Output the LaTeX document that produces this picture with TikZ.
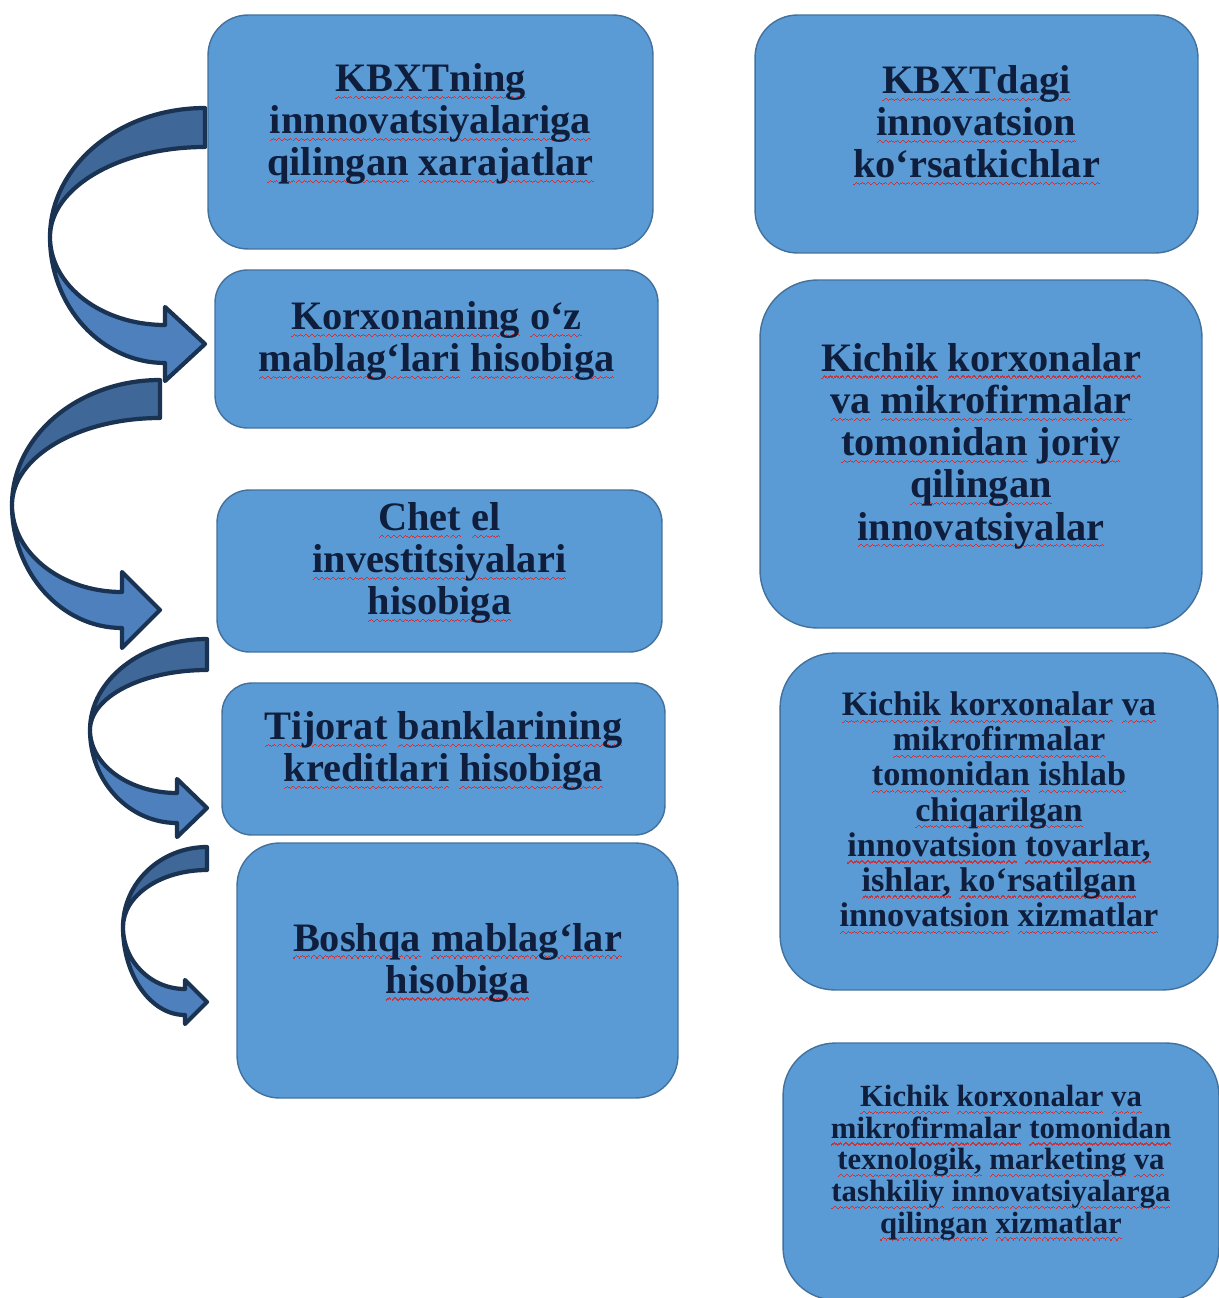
\documentclass[tikz,border=0pt]{standalone}
\usepackage{fontspec}
\setmainfont{Liberation Serif}
\usetikzlibrary{calc}
\definecolor{BoxFill}{HTML}{5B9BD5}
\definecolor{BoxEdge}{HTML}{41719C}
\definecolor{ArrDark}{HTML}{3F6798}
\definecolor{ArrLight}{HTML}{4D80BD}
\definecolor{ArrLine}{HTML}{1A3352}
\definecolor{TxtNavy}{HTML}{0F1E3C}
\definecolor{WaveRed}{HTML}{C8343C}

% red wavy underline under every word
\newsavebox\wavebox
\newcommand\redwave[1]{\sbox\wavebox{#1}\leavevmode\rlap{\hbox to\wd\wavebox{\color{WaveRed}%
  \xleaders\hbox{\rule[-4.2pt]{0.8pt}{0.7pt}\rule[-3.6pt]{0.8pt}{0.7pt}\rule[-3pt]{0.8pt}{0.7pt}\rule[-3.6pt]{0.8pt}{0.7pt}}\hfil}}\usebox\wavebox}
\makeatletter
\newcommand\wavy[1]{\wavy@split#1 \@nil}
\def\wavy@split#1 #2\@nil{\redwave{#1}\ifx\relax#2\relax\expandafter\@gobble\else\expandafter\@firstofone\fi{\ \wavy@split#2\@nil}}
\makeatother

% tail x, tail top, tail bottom, left x, left y, head x, shaft mid, head half, shaft half
\newcommand\bentarrow[9]{%
  \draw[ribback] (#1,#2) .. controls ({#1-0.552*(#1-#4)},#2) and (#4,{#5-0.552*(#5-#2)}) .. (#4,#5)
    .. controls (#4,{#5-0.552*(#5-#3)}) and ({#1-0.552*(#1-#4)},#3) .. (#1,#3) -- cycle;
  \draw[ribfront] (#4,#5) .. controls (#4,{#5+0.552*(#7+#9-#5)}) and ({#6-0.552*(#6-#4)},{#7+#9}) .. (#6,{#7+#9})
    -- (#6,{#7+#8}) -- (#1,#7) -- (#6,{#7-#8}) -- (#6,{#7-#9})
    .. controls ({#6-0.552*(#6-#4)},{#7-#9}) and (#4,{#5+0.552*(#7-#9-#5)}) .. (#4,#5) -- cycle;
}

\begin{document}
\begin{tikzpicture}[x=0.02cm, y=-0.02cm,
  box/.style={draw=BoxEdge, fill=BoxFill, line width=0.8pt, align=center,
              inner sep=0pt, text=TxtNavy, font=\bfseries\fontsize{23}{24}\selectfont,
              execute at end node=\rule[-14pt]{0pt}{0pt}},
  small/.style={font=\bfseries\fontsize{19.5}{20}\selectfont},
  tiny/.style={font=\bfseries\fontsize{17.5}{18}\selectfont},
  ribback/.style={fill=ArrDark, draw=ArrLine, line width=2.4pt, line join=round},
  ribfront/.style={fill=ArrLight, draw=ArrLine, line width=2.4pt, line join=round}]
  \useasboundingbox (0,0) rectangle (1219,1298);

  % left column
  \node[box, rounded corners=0.8cm, minimum width=8.9cm, minimum height=4.68cm] (cost) at (430.5,132)
    {\wavy{KBXTning}\\ \wavy{innnovatsiyalariga}\\ \wavy{qilingan xarajatlar}};
  \node[box, rounded corners=0.65cm, minimum width=8.86cm, minimum height=3.16cm] (own) at (436.5,349)
    {\wavy{Korxonaning o‘z}\\ \wavy{mablag‘lari hisobiga}};
  \node[box, rounded corners=0.65cm, minimum width=8.9cm, minimum height=3.24cm] (foreign) at (439.5,571)
    {\wavy{Chet el}\\ \wavy{investitsiyalari}\\ \wavy{hisobiga}};
  \node[box, rounded corners=0.6cm, minimum width=8.86cm, minimum height=3.04cm] (bank) at (443.5,759)
    {\wavy{Tijorat banklarining}\\ \wavy{kreditlari hisobiga}};
  \node[box, rounded corners=0.85cm, minimum width=8.82cm, minimum height=5.1cm] (other) at (457.5,970.5)
    {\wavy{Boshqa mablag‘lar}\\ \wavy{hisobiga}};

  % right column
  \node[box, rounded corners=0.85cm, minimum width=8.86cm, minimum height=4.76cm] (indic) at (976.5,134)
    {\wavy{KBXTdagi}\\ \wavy{innovatsion}\\ \wavy{ko‘rsatkichlar}};
  \node[box, rounded corners=1.15cm, minimum width=8.84cm, minimum height=6.96cm] (introd) at (981,454)
    {\wavy{Kichik korxonalar}\\ \wavy{va mikrofirmalar}\\ \wavy{tomonidan joriy}\\ \wavy{qilingan}\\ \wavy{innovatsiyalar}};
  \node[box, small, rounded corners=1.1cm, minimum width=8.76cm, minimum height=6.74cm] (goods) at (999,821.5)
    {\wavy{Kichik korxonalar va}\\ \wavy{mikrofirmalar}\\ \wavy{tomonidan ishlab}\\ \wavy{chiqarilgan}\\
     \wavy{innovatsion tovarlar,}\\ \wavy{ishlar, ko‘rsatilgan}\\ \wavy{innovatsion xizmatlar}};
  \node[box, tiny, rounded corners=1.05cm, minimum width=8.72cm, minimum height=5.14cm] (serv) at (1001,1171.5)
    {\wavy{Kichik korxonalar va}\\ \wavy{mikrofirmalar tomonidan}\\ \wavy{texnologik, marketing va}\\
     \wavy{tashkiliy innovatsiyalarga}\\ \wavy{qilingan xizmatlar}};

  % curved block arrows
  \bentarrow{205}{108}{147}{50}{237}{165}{344}{37}{19}
  \bentarrow{160}{380}{418}{12}{505}{122}{610}{38}{18}
  \bentarrow{207}{639}{670}{90}{730}{177}{808}{29}{15}
  \bentarrow{207}{847}{870}{123}{927}{185}{1002}{22}{13}
\end{tikzpicture}
\end{document}
